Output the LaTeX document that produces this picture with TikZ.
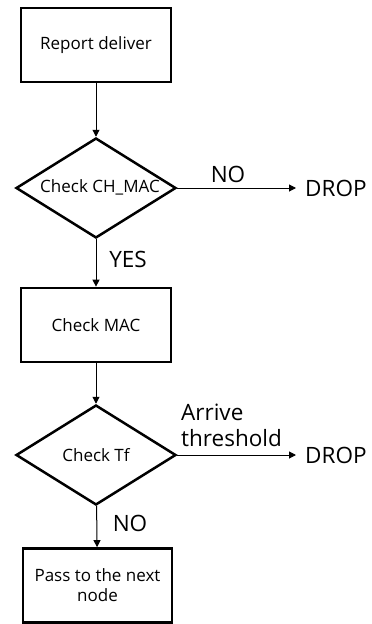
\documentclass[tikz,border=0pt]{standalone}
\usepackage{fontspec}
\setmainfont{Open Sans}
\usetikzlibrary{shapes.geometric,arrows.meta}
\begin{document}
\begin{tikzpicture}[x=1pt,y=-1pt,
  boxfont/.style={font=\fontsize{17}{20}\selectfont},
  stepbox/.style={draw,line width=2.7pt,minimum width=150pt,minimum height=74pt,inner sep=0pt,align=center,boxfont},
  decision/.style={draw,diamond,line width=2.5pt,minimum width=160pt,minimum height=100pt,aspect=1.6,inner sep=0pt,boxfont},
  bigtext/.style={font=\fontsize{22.5}{26}\selectfont,inner sep=0pt},
  flow/.style={-{Triangle[length=7pt,width=7pt]},line width=1pt}]
\useasboundingbox (0,0) rectangle (372,624);
% process boxes and decisions
\node[stepbox] (report) at (96,45) {Report deliver};
\node[decision] (chmac) at (96,188) {};
\node[boxfont,inner sep=0pt] (chmactext) at (100,187) {Check CH\_MAC};
\node[bigtext,anchor=west] (drop1) at (305,188) {DROP};
\node[stepbox] (mac) at (96,325) {Check MAC};
\node[decision] (tf) at (96,455) {Check Tf};
\node[bigtext,anchor=west] (drop2) at (305,455) {DROP};
\node[stepbox,minimum width=149pt,minimum height=74pt] (pass) at (97.5,585.5) {Pass to the next\\node};
% connectors
\draw[flow] (report) -- (chmac);
\draw[flow] (chmac.east) -- ([xshift=-9pt]drop1.west);
\node[bigtext] (no1) at (228,174) {NO};
\draw[flow] (chmac) -- (mac);
\node[bigtext] (yes) at (128,259) {YES};
\draw[flow] (mac) -- (tf);
\draw[flow] (tf.east) -- ([xshift=-9pt]drop2.west);
\node[bigtext,align=left,anchor=west] (arrive) at (181,425) {Arrive\\threshold};
\draw[flow] (tf) -- (pass);
\node[bigtext] (no2) at (130,523) {NO};
\end{tikzpicture}
\end{document}
